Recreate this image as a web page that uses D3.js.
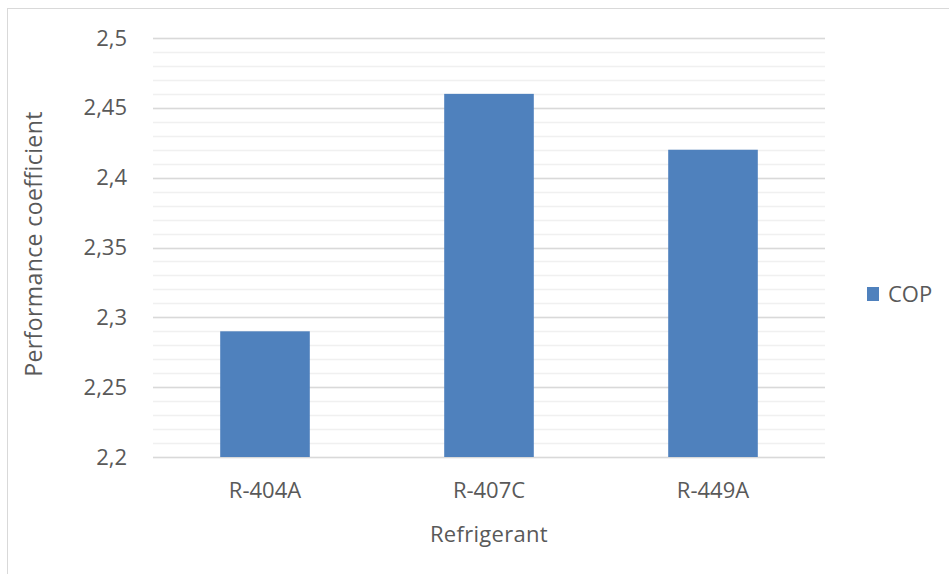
<!DOCTYPE html>
<html><head><meta charset="utf-8">
<script src="https://cdn.jsdelivr.net/npm/d3@7"></script>
<style>body{margin:0;background:#fff}svg{display:block}</style>
</head><body>
<svg id="c" width="949" height="574"></svg>
<script>
const categories = ["R-404A", "R-407C", "R-449A"];
const cop = [2.29, 2.46, 2.42];
const yTicks = [2.2, 2.25, 2.3, 2.35, 2.4, 2.45, 2.5];
const yTickLabels = ["2,2", "2,25", "2,3", "2,35", "2,4", "2,45", "2,5"];
const minorTicks = d3.range(0, 31).map(i => 2.2 + i * 0.01);
const seriesName = "COP";

const svg = d3.select("#c");
const font = "'Open Sans', Calibri, sans-serif";
const fs = 22;
const txt = "#595959";
const pLeft = 153, pRight = 825, pTop = 38, pBottom = 457;

svg.append("rect").attr("x", 7.5).attr("y", 8.5).attr("width", 960).attr("height", 600)
  .attr("fill", "#fff").attr("stroke", "#d9d9d9");

const x = d3.scaleBand().domain(categories).range([pLeft, pRight]).paddingInner(0.6).paddingOuter(0.3);
const y = d3.scaleLinear().domain([2.2, 2.5]).range([pBottom, pTop]);

svg.append("g").selectAll("line").data(minorTicks).join("line")
  .attr("x1", pLeft).attr("x2", pRight)
  .attr("y1", d => Math.round(y(d)) + 0.5).attr("y2", d => Math.round(y(d)) + 0.5)
  .attr("stroke", "#f0f0f0").attr("stroke-width", 1.5);

svg.append("g").selectAll("line").data(yTicks).join("line")
  .attr("x1", pLeft).attr("x2", pRight)
  .attr("y1", d => Math.round(y(d)) + 0.5).attr("y2", d => Math.round(y(d)) + 0.5)
  .attr("stroke", "#d9d9d9").attr("stroke-width", 1.5);

svg.append("g").selectAll("rect").data(cop).join("rect")
  .attr("x", (d, i) => x(categories[i])).attr("width", x.bandwidth())
  .attr("y", d => y(d)).attr("height", d => y(2.2) - y(d))
  .attr("fill", "#4f81bd");

const yAxis = d3.axisLeft(y).tickValues(yTicks).tickFormat((d, i) => yTickLabels[i]).tickSize(0).tickPadding(26);
const ga = svg.append("g").attr("transform", `translate(${pLeft},0)`).call(yAxis);
ga.select(".domain").remove();
ga.selectAll("text").attr("font-family", font).attr("font-size", fs).attr("fill", txt);

const xAxis = d3.axisBottom(x).tickSize(0).tickPadding(25);
const gx = svg.append("g").attr("transform", `translate(0,${pBottom})`).call(xAxis);
gx.select(".domain").remove();
gx.selectAll("text").attr("font-family", font).attr("font-size", fs).attr("fill", txt);

svg.append("text").attr("x", 489).attr("y", 542).attr("text-anchor", "middle")
  .attr("font-family", font).attr("font-size", fs).attr("letter-spacing", 0.3).attr("fill", txt).text("Refrigerant");
svg.append("text").attr("transform", "translate(42,244) rotate(-90)").attr("text-anchor", "middle")
  .attr("font-family", font).attr("font-size", 23).attr("letter-spacing", 0.4).attr("fill", txt).text("Performance coefficient");

svg.append("rect").attr("x", 867).attr("y", 287).attr("width", 12).attr("height", 14).attr("fill", "#4f81bd");
svg.append("text").attr("x", 888).attr("y", 302).attr("font-family", font).attr("font-size", fs)
  .attr("fill", txt).text(seriesName);
</script>
</body></html>
